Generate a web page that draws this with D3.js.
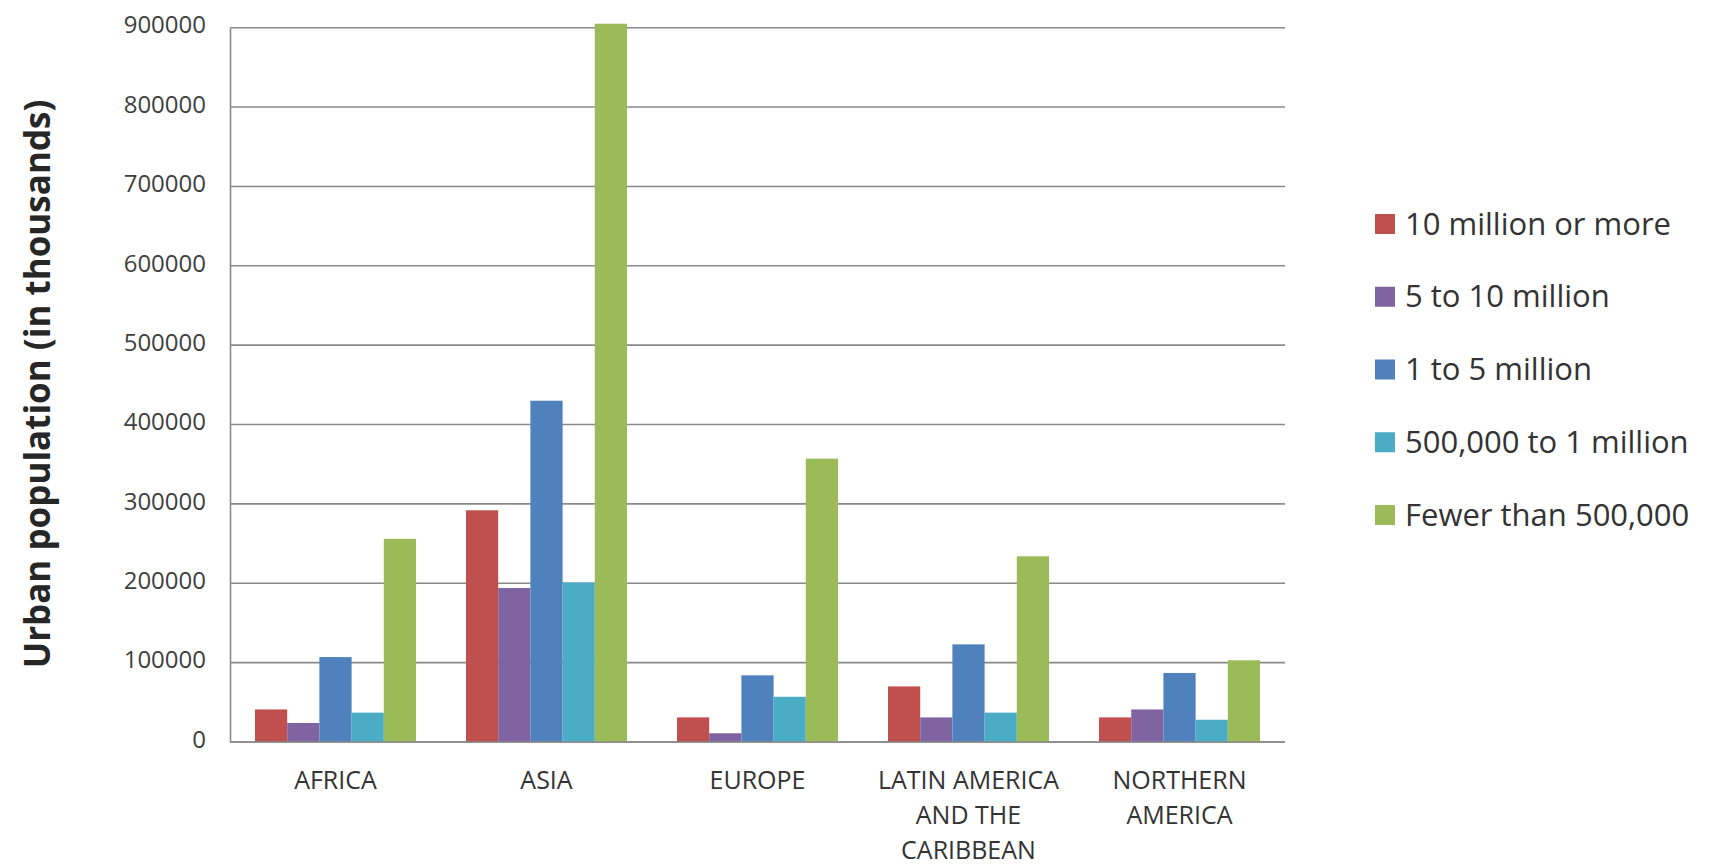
<!DOCTYPE html>
<html>
<head>
<meta charset="utf-8">
<script src="https://cdn.jsdelivr.net/npm/d3@7"></script>
<style>
  html, body { margin: 0; padding: 0; background: #ffffff; }
  svg { display: block; }
</style>
</head>
<body>
<svg id="chart" width="1710" height="865"></svg>
<script>
// ---- data ----
const categories = ["AFRICA", "ASIA", "EUROPE", "LATIN AMERICA AND THE CARIBBEAN", "NORTHERN AMERICA"];
const categoryLines = [["AFRICA"], ["ASIA"], ["EUROPE"], ["LATIN AMERICA", "AND THE", "CARIBBEAN"], ["NORTHERN", "AMERICA"]];
const seriesNames = ["10 million or more", "5 to 10 million", "1 to 5 million", "500,000 to 1 million", "Fewer than 500,000"];
const s10mPlus   = [41000, 292000, 31000, 70000, 31000];
const s5to10m    = [24000, 194000, 11000, 31000, 41000];
const s1to5m     = [107000, 430000, 84000, 123000, 87000];
const s500kto1m  = [37000, 201000, 57000, 37000, 28000];
const sUnder500k = [256000, 905000, 357000, 234000, 103000];
const seriesValues = [s10mPlus, s5to10m, s1to5m, s500kto1m, sUnder500k];
const yTicks = [0, 100000, 200000, 300000, 400000, 500000, 600000, 700000, 800000, 900000];
const colors = ["#C0504D", "#8064A2", "#4F81BD", "#4BACC6", "#9BBB59"];
const yTitle = "Urban population (in thousands)";

(function () {
// ---- layout ----
const svg = d3.select("#chart");
const pLeft = 230, pRight = 1285, pTop = 27.7, pBottom = 742;

const x0 = d3.scaleBand().domain(categories).range([pLeft, pRight])
  .paddingInner(0.237).paddingOuter(0.1185);
const x1 = d3.scaleBand().domain(seriesNames).range([0, x0.bandwidth()]).padding(0);
const y = d3.scaleLinear().domain([0, 900000]).range([pBottom, pTop]);

// gridlines
svg.append("g").selectAll("line").data(yTicks).join("line")
  .attr("x1", pLeft).attr("x2", pRight)
  .attr("y1", d => y(d)).attr("y2", d => y(d))
  .attr("stroke", "#8a8a8a").attr("stroke-width", 1.6);

// y axis (labels only, via d3.axisLeft)
const yAxis = svg.append("g").attr("transform", `translate(${pLeft},0)`)
  .call(d3.axisLeft(y).tickValues(yTicks).tickFormat(d3.format("d")).tickSize(0).tickPadding(24));
yAxis.select(".domain").attr("stroke", "#8a8a8a").attr("stroke-width", 1.6);
yAxis.selectAll("text")
  .attr("font-family", "'Open Sans', 'Noto Sans', sans-serif")
  .attr("font-size", 24).attr("fill", "#404040").attr("dy", "0.22em");

// bars
const groups = svg.append("g").selectAll("g").data(categories).join("g")
  .attr("transform", d => `translate(${x0(d)},0)`);
groups.selectAll("rect")
  .data((c, ci) => seriesNames.map((s, si) => ({ s, si, v: seriesValues[si][ci] })))
  .join("rect")
  .attr("x", d => x1(d.s))
  .attr("width", x1.bandwidth())
  .attr("y", d => y(d.v))
  .attr("height", d => y(0) - y(d.v))
  .attr("fill", d => colors[d.si]);

// baseline over bars
svg.append("line").attr("x1", pLeft).attr("x2", pRight).attr("y1", y(0)).attr("y2", y(0))
  .attr("stroke", "#8a8a8a").attr("stroke-width", 1.6);

// category labels
const xl = svg.append("g");
categories.forEach((c, i) => {
  const cx = x0(c) + x0.bandwidth() / 2;
  const t = xl.append("text")
    .attr("x", cx)
    .attr("y", 789)
    .attr("text-anchor", "middle")
    .attr("font-family", "'Open Sans', 'Noto Sans', sans-serif")
    .attr("font-size", 25).attr("fill", "#333");
  categoryLines[i].forEach((ln, k) => {
    t.append("tspan").attr("x", cx)
      .attr("dy", k === 0 ? 0 : 35).text(ln);
  });
});

// y title
svg.append("text")
  .attr("transform", "translate(36,384) rotate(-90)")
  .attr("text-anchor", "middle").attr("dominant-baseline", "central")
  .attr("font-family", "'Open Sans', 'Noto Sans', sans-serif")
  .attr("font-weight", "bold").attr("font-size", 35).attr("fill", "#262626")
  .text(yTitle);

// legend
const legendY = d3.scalePoint().domain(seriesNames).range([224, 515]);
const lg = svg.append("g").selectAll("g").data(seriesNames).join("g")
  .attr("transform", d => `translate(1375,${legendY(d)})`);
lg.append("rect").attr("x", 0).attr("y", -10).attr("width", 20).attr("height", 20)
  .attr("fill", (d, i) => colors[i]);
lg.append("text").attr("x", 30).attr("y", 0).attr("dy", "0.34em")
  .attr("font-family", "'Open Sans', 'Noto Sans', sans-serif")
  .attr("font-size", 31).attr("fill", "#333")
  .text(d => d);
})();
</script>
</body>
</html>
